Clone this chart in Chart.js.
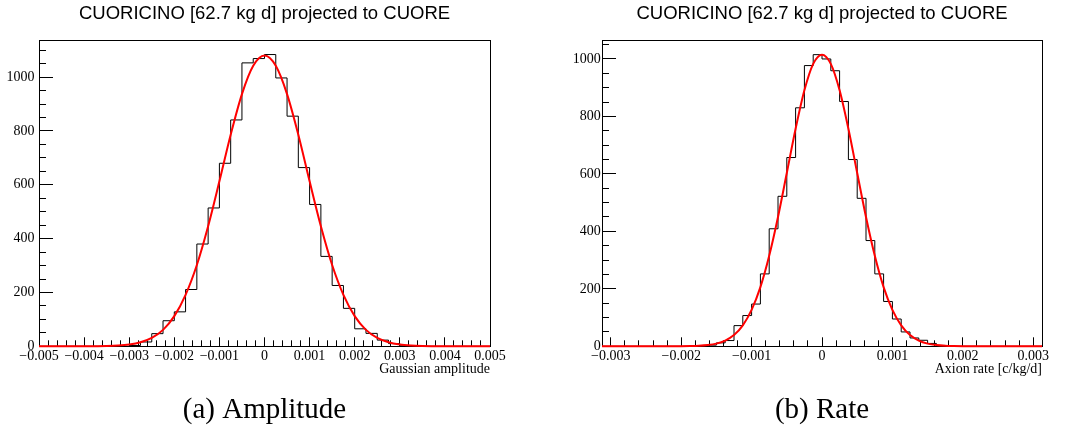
<!DOCTYPE html>
<html>
<head>
<meta charset="utf-8">
<title>CUORICINO projected to CUORE</title>
<script src="https://cdn.jsdelivr.net/npm/chart.js@4.4.0/dist/chart.umd.min.js"></script>
<style>
  html, body { margin: 0; padding: 0; background: #fff; }
  #wrap { position: relative; width: 1065px; height: 431px; }
  .panel { position: absolute; top: 0; height: 431px; }
  #panelA { left: 0; width: 530px; }
  #panelB { left: 530px; width: 535px; }
</style>
</head>
<body>
<div id="wrap">
  <div class="panel" id="panelA"><canvas id="chartA"></canvas></div>
  <div class="panel" id="panelB"><canvas id="chartB"></canvas></div>
</div>
<script>
// =============================
// Datos
// =============================
const titleText = "CUORICINO [62.7 kg d] projected to CUORE";

// (a) Gaussian amplitude: 40 bins de -0.005 a 0.005
const ampBinStart = -0.005;
const ampBinWidth = 0.00025;
const ampCounts = [
  0, 0, 0, 0, 0, 0, 0, 0, 3, 16,
  47, 95, 128, 211, 380, 514, 680, 841, 1053, 1069,
  1084, 997, 855, 664, 527, 334, 226, 141, 65, 48,
  23, 10, 2, 0, 0, 0, 0, 0, 0, 0
];
// curva roja (ajuste gaussiano) en los bordes de bin
const ampFit = [
  0, 0, 0, 0, 0.1, 0.4, 1, 2.7, 6.6, 15,
  31, 61, 112, 191, 302, 446, 613, 786, 937, 1042,
  1080,
  1042, 937, 786, 613, 446, 302, 191, 112, 61, 31,
  15, 6.6, 2.7, 1, 0.4, 0.1, 0, 0, 0, 0
];
const ampXTicks = [-0.005, -0.004, -0.003, -0.002, -0.001, 0, 0.001, 0.002, 0.003, 0.004, 0.005];
const ampYTicks = [0, 200, 400, 600, 800, 1000];
const ampYMax = 1138;

// (b) Axion rate: 50 bins de -0.003125 a 0.003125
const rateBinStart = -0.003125;
const rateBinWidth = 0.000125;
const rateCounts = [
  0, 0, 0, 0, 0, 0, 0, 0, 0, 0,
  0, 2, 4, 12, 20, 72, 107, 147, 252, 409,
  522, 657, 830, 977, 1015, 1000, 959, 852, 650, 515,
  368, 252, 156, 95, 50, 29, 21, 10, 3, 1,
  0, 0, 0, 0, 0, 0, 0, 0, 0, 0
];
const rateFit = [
  0, 0, 0, 0, 0, 0, 0, 0, 0, 0.2,
  0.7, 1.7, 4.2, 9.4, 20, 39, 73, 127, 206, 315,
  450, 603, 757, 891, 983,
  1015,
  983, 891, 757, 603, 450, 315, 206, 127, 73, 39,
  20, 9.4, 4.2, 1.7, 0.7, 0.2, 0, 0, 0, 0,
  0, 0, 0, 0, 0
];
const rateXTicks = [-0.003, -0.002, -0.001, 0, 0.001, 0.002, 0.003];
const rateYTicks = [0, 200, 400, 600, 800, 1000];
const rateYMax = 1066;

// =============================
// Helpers
// =============================
function histPoints(start, width, counts) {
  const pts = counts.map((c, i) => ({ x: start + i * width, y: c }));
  pts.push({ x: start + counts.length * width, y: counts[counts.length - 1] });
  return pts;
}

function edgePoints(start, width, vals) {
  return vals.map((v, i) => ({ x: start + i * width, y: v }));
}

function fmtX(v) {
  if (Math.abs(v) < 1e-12) return "0";
  return (v < 0 ? "\u2212" : "") + Math.abs(v).toFixed(3);
}

// marco del pad (arriba y derecha)
const frame = {
  id: "frame",
  beforeDatasetsDraw(chart) {
    const a = chart.chartArea, ctx = chart.ctx;
    ctx.save();
    ctx.strokeStyle = "#000";
    ctx.lineWidth = 1;
    ctx.strokeRect(Math.round(a.left) + 0.5, Math.round(a.top) + 0.5,
      Math.round(a.right - a.left), Math.round(a.bottom - a.top));
    ctx.restore();
  }
};

const serif = "Liberation Serif";

function makeChart(id, o) {
  const nBins = o.counts.length;
  const xMin = o.start, xMax = o.start + nBins * o.width;
  return new Chart(document.getElementById(id), {
    type: "line",
    data: {
      datasets: [
        {
          label: "fit",
          data: edgePoints(o.start, o.width, o.fit),
          borderColor: "#ff0000",
          borderWidth: 2,
          pointRadius: 0,
          cubicInterpolationMode: "monotone",
          order: 0,
          clip: false
        },
        {
          label: "hist",
          data: histPoints(o.start, o.width, o.counts),
          borderColor: "#000",
          borderWidth: 1,
          pointRadius: 0,
          stepped: "before",
          order: 1,
          clip: false
        }
      ]
    },
    options: {
      responsive: true,
      maintainAspectRatio: false,
      animation: false,
      events: [],
      layout: { padding: { left: 0, right: o.padRight, top: 0, bottom: 0 } },
      plugins: {
        legend: { display: false },
        tooltip: { enabled: false },
        title: {
          display: true,
          fullSize: false,
          text: titleText,
          color: "#000",
          font: { family: "Liberation Sans", size: 18.5, weight: "normal", lineHeight: 1.2 },
          padding: { top: 3, bottom: 14.8 }
        },
        subtitle: {
          display: true,
          fullSize: false,
          position: "bottom",
          text: o.caption,
          color: "#000",
          font: { family: serif, size: 29, weight: "normal", lineHeight: 1.2 },
          padding: { top: 0, bottom: 2.9 }
        }
      },
      scales: {
        x: {
          type: "linear",
          position: "bottom",
          weight: 1,
          min: xMin,
          max: xMax,
          afterBuildTicks: s => { s.ticks = o.xTicks.map(v => ({ value: v })); },
          afterFit: s => { s.height = 47; },
          grid: { drawOnChartArea: false, tickLength: -9, color: "#000" },
          border: { color: "#000" },
          ticks: {
            padding: 10.3, color: "#000", autoSkip: false, maxRotation: 0,
            font: { family: serif, size: 14 },
            callback: v => fmtX(v)
          },
          title: {
            display: true, text: o.xTitle, align: "end", color: "#000",
            font: { family: serif, size: 14 },
            padding: { top: 0, bottom: 15.6 }
          }
        },
        xMinor: {
          type: "linear",
          axis: "x",
          position: "bottom",
          weight: 0,
          min: xMin,
          max: xMax,
          afterFit: s => { s.height = 0; },
          grid: { drawOnChartArea: false, tickLength: -6, color: "#000" },
          border: { color: "#000" },
          ticks: { display: false, stepSize: 0.0002, includeBounds: false }
        },
        y: {
          type: "linear",
          position: "left",
          weight: 1,
          min: 0,
          max: o.yMax,
          afterBuildTicks: s => { s.ticks = o.yTicks.map(v => ({ value: v })); },
          afterFit: s => { s.width = o.yWidth; },
          grid: { drawOnChartArea: false, tickLength: -14, color: "#000" },
          border: { color: "#000" },
          ticks: {
            padding: o.yPad, color: "#000",
            font: { family: serif, size: 14 },
            callback: v => String(v)
          }
        },
        yMinor: {
          type: "linear",
          axis: "y",
          position: "left",
          weight: 0,
          min: 0,
          max: o.yMax,
          afterFit: s => { s.width = 0; },
          grid: { drawOnChartArea: false, tickLength: -7, color: "#000" },
          border: { color: "#000" },
          ticks: { display: false, stepSize: 50, includeBounds: false }
        }
      }
    },
    plugins: [frame]
  });
}

makeChart("chartA", {
  start: ampBinStart, width: ampBinWidth, counts: ampCounts, fit: ampFit,
  xTicks: ampXTicks, yTicks: ampYTicks, yMax: ampYMax,
  xTitle: "Gaussian amplitude", caption: "(a) Amplitude",
  yWidth: 39, padRight: 40, yPad: 18.5
});

makeChart("chartB", {
  start: rateBinStart, width: rateBinWidth, counts: rateCounts, fit: rateFit,
  xTicks: rateXTicks, yTicks: rateYTicks, yMax: rateYMax,
  xTitle: "Axion rate [c/kg/d]", caption: "(b) Rate",
  yWidth: 72, padRight: 23, yPad: 15.3
});
</script>
</body>
</html>
